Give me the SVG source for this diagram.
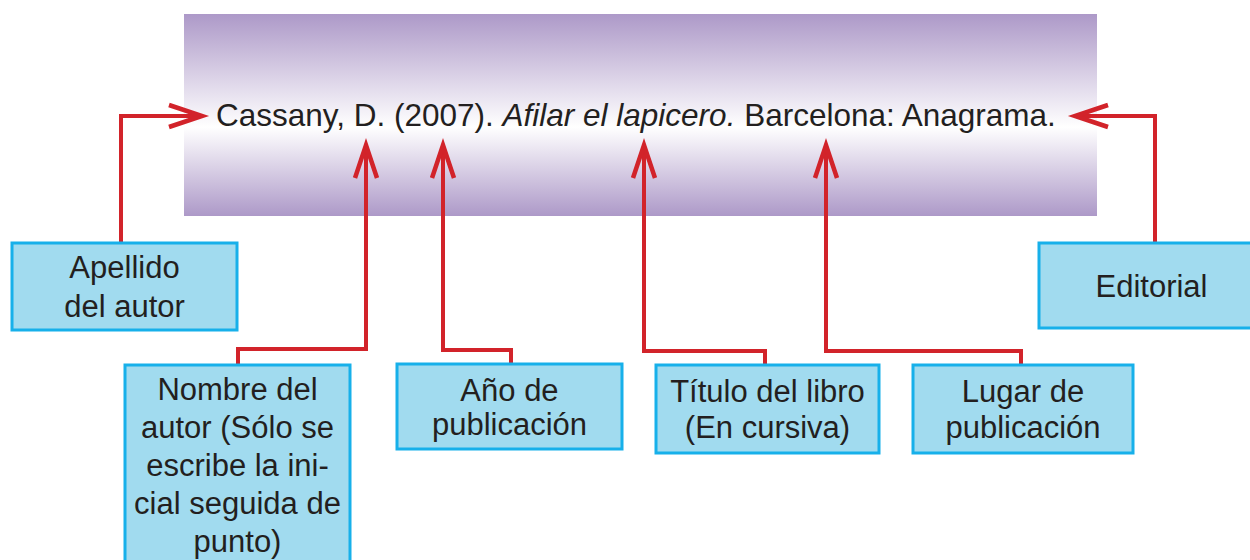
<svg xmlns="http://www.w3.org/2000/svg" width="1250" height="560" viewBox="0 0 1250 560">
<style>
.box{fill:#a1dbef;stroke:#17b0ea;stroke-width:3}
.lbl{font-family:"Liberation Sans",Arial,sans-serif;font-size:31px;fill:#231f20;text-anchor:middle}
.ref{font-family:"Liberation Sans",Arial,sans-serif;font-size:31.5px;fill:#231f20}
.con{fill:none;stroke:#d2232a;stroke-width:4;stroke-linejoin:miter}
</style>
<defs>
<linearGradient id="bg" x1="0" y1="0" x2="0" y2="1">
<stop offset="0" stop-color="#ad99c8"/>
<stop offset="0.56" stop-color="#ffffff"/>
<stop offset="1" stop-color="#ad99c8"/>
</linearGradient>
<marker id="arr" markerUnits="userSpaceOnUse" markerWidth="40" markerHeight="30" refX="0" refY="0" orient="auto" overflow="visible">
<path d="M-33,-11 L0,0 L-33,11" fill="none" stroke="#d2232a" stroke-width="4.5"/>
</marker>
</defs>
<g id="banner">
<rect x="184" y="14" width="913" height="202" fill="url(#bg)"/>
<text class="ref" x="216" y="126">Cassany, D. (2007). <tspan font-style="italic">Afilar el lapicero.</tspan> Barcelona: Anagrama.</text>
</g>
<g id="connectors">
<path class="con" d="M121,243 V116 H202" marker-end="url(#arr)"/>
<path class="con" d="M238,365 V349 H366 V145" marker-end="url(#arr)"/>
<path class="con" d="M511,364 V350 H443 V145" marker-end="url(#arr)"/>
<path class="con" d="M765,365 V351 H644 V145" marker-end="url(#arr)"/>
<path class="con" d="M1021,365 V351 H826 V145" marker-end="url(#arr)"/>
<path class="con" d="M1155,243 V116 H1075" marker-end="url(#arr)"/>
</g>
<g id="apellido">
<rect class="box" x="12" y="243" width="225" height="87"/>
<text class="lbl" x="124.5" y="278">Apellido</text>
<text class="lbl" x="124.5" y="317">del autor</text>
</g>
<g id="editorial">
<rect class="box" x="1039" y="243" width="225" height="85"/>
<text class="lbl" x="1151.5" y="297">Editorial</text>
</g>
<g id="nombre">
<rect class="box" x="125" y="365" width="225" height="205"/>
<text class="lbl" x="237.5" y="400">Nombre del</text>
<text class="lbl" x="237.5" y="438">autor (Sólo se</text>
<text class="lbl" x="237.5" y="476">escribe la ini-</text>
<text class="lbl" x="237.5" y="514">cial seguida de</text>
<text class="lbl" x="237.5" y="552">punto)</text>
</g>
<g id="anio">
<rect class="box" x="397" y="364" width="225" height="85"/>
<text class="lbl" x="509.5" y="401">Año de</text>
<text class="lbl" x="509.5" y="435">publicación</text>
</g>
<g id="titulo">
<rect class="box" x="656" y="365" width="223" height="88"/>
<text class="lbl" x="767.5" y="402">Título del libro</text>
<text class="lbl" x="767.5" y="438">(En cursiva)</text>
</g>
<g id="lugar">
<rect class="box" x="913" y="365" width="220" height="88"/>
<text class="lbl" x="1023" y="402">Lugar de</text>
<text class="lbl" x="1023" y="438">publicación</text>
</g>
</svg>
